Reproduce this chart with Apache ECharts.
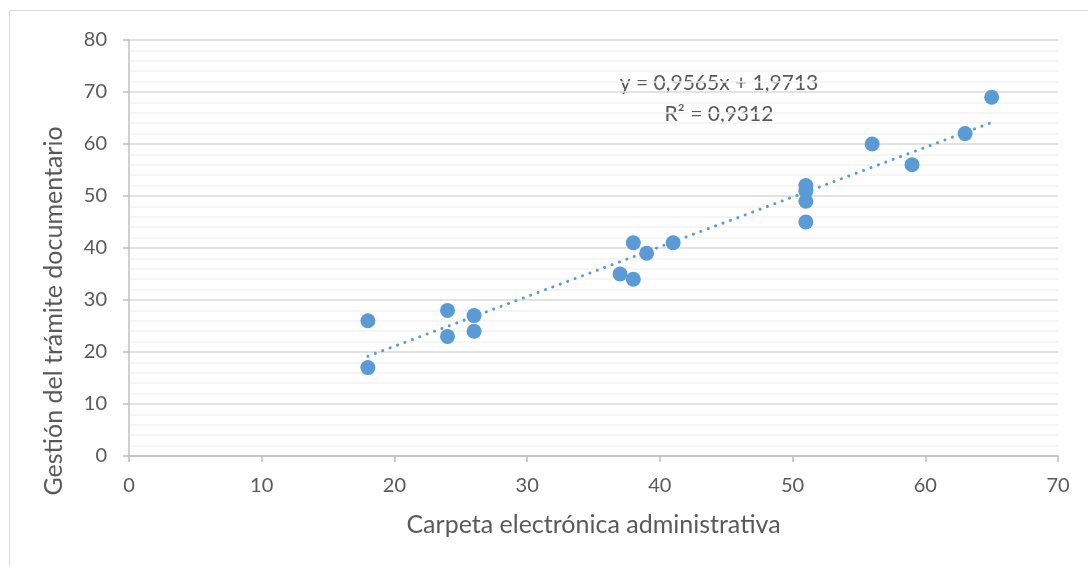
<!DOCTYPE html>
<html>
<head>
<meta charset="utf-8">
<script src="https://cdn.jsdelivr.net/npm/echarts@6/dist/echarts.min.js"></script>
<style>html,body{margin:0;padding:0;background:#fff}#c{width:1088px;height:566px}</style>
</head>
<body>
<div id="c"></div>
<script>
const xValues = [18, 18, 24, 24, 26, 26, 37, 38, 38, 39, 41, 51, 51, 51, 51, 56, 59, 63, 65];
const yValues = [26, 17, 28, 23, 27, 24, 35, 41, 34, 39, 41, 52, 51, 49, 45, 60, 56, 62, 69];
const trendCoef = [0.9565, 1.9713];
const equationLabels = ['y = 0,9565x + 1,9713', 'R² = 0,9312'];
const xTitle = 'Carpeta electrónica administrativa';
const yTitle = 'Gestión del trámite documentario';

const FONT = 'Lato';
const pts = xValues.map((x, i) => [x, yValues[i]]);
const xmin = Math.min(...xValues), xmax = Math.max(...xValues);
const trend = [[xmin, trendCoef[0] * xmin + trendCoef[1]], [xmax, trendCoef[0] * xmax + trendCoef[1]]];

const chart = echarts.init(document.getElementById('c'), null, {renderer: 'canvas'});
chart.setOption({
  animation: false,
  backgroundColor: '#fff',
  grid: {left: 129, right: 30, top: 40, bottom: 110, containLabel: false},
  xAxis: {
    type: 'value', min: 0, max: 70, interval: 10,
    name: xTitle, nameLocation: 'middle', nameGap: 56,
    nameTextStyle: {fontFamily: FONT, fontSize: 25, color: '#595959'},
    axisLine: {show: true, onZero: false, lineStyle: {color: '#BFBFBF', width: 1.5}},
    axisTick: {show: true, length: 6, lineStyle: {color: '#BFBFBF', width: 1.5}},
    axisLabel: {fontFamily: FONT, fontSize: 20, color: '#595959', margin: 20},
    splitLine: {show: false}
  },
  yAxis: {
    type: 'value', min: 0, max: 80, interval: 10,
    axisLine: {show: true, onZero: false, lineStyle: {color: '#BFBFBF', width: 1.5}},
    axisTick: {show: true, length: 6, lineStyle: {color: '#BFBFBF', width: 1.5}},
    axisLabel: {fontFamily: FONT, fontSize: 20, color: '#595959', margin: 22},
    splitLine: {show: true, lineStyle: {color: '#D9D9D9', width: 1.5}},
    minorTick: {show: false, splitNumber: 5},
    minorSplitLine: {show: true, lineStyle: {color: '#F2F2F2', width: 1.5}}
  },
  series: [
    {
      type: 'line', data: trend, symbol: 'none', z: 3,
      lineStyle: {color: '#5B9BD5', width: 3, type: [0.1, 7.8], cap: 'round'}
    },
    {
      type: 'scatter', data: pts, symbol: 'circle', symbolSize: 15, z: 2,
      itemStyle: {color: '#5B9BD5', opacity: 1}
    }
  ],
  graphic: [
    {type: 'line', shape: {x1: 9.5, y1: 10.5, x2: 1088, y2: 10.5}, style: {stroke: '#D9D9D9', lineWidth: 1}},
    {type: 'line', shape: {x1: 9.5, y1: 10.5, x2: 9.5, y2: 566}, style: {stroke: '#D9D9D9', lineWidth: 1}},
    {type: 'text', position: [54, 311], rotation: Math.PI / 2, style: {text: yTitle, x: 0, y: 0, textAlign: 'center', textVerticalAlign: 'middle', font: '25px ' + FONT, fill: '#595959'}},
    {type: 'text', position: [719, 83], style: {text: equationLabels[0], x: 0, y: 0, textAlign: 'center', textVerticalAlign: 'middle', font: '21px ' + FONT, fill: '#595959'}},
    {type: 'text', position: [719, 114], style: {text: equationLabels[1], x: 0, y: 0, textAlign: 'center', textVerticalAlign: 'middle', font: '21px ' + FONT, fill: '#595959'}}
  ]
});
</script>
</body>
</html>
